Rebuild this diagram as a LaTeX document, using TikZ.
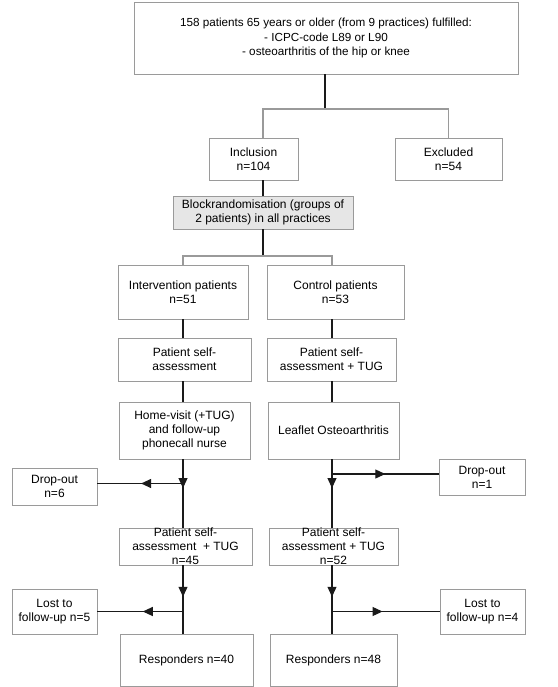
\documentclass[tikz,border=0pt]{standalone}
\usepackage{fontspec}
\setmainfont{Liberation Sans}
\usetikzlibrary{arrows.meta,decorations.markings}
\definecolor{boxgray}{HTML}{9A9A9A}
\definecolor{fillgray}{HTML}{E6E6E6}
\definecolor{linecol}{HTML}{1A1A1A}
\newcommand{\boxnode}[7][]{%
  \node[box,#1,minimum width={(#5-#3)*1pt},minimum height={(#6-#4)*1pt}] (#2) at ({(#3+#5)/2},{(#4+#6)/2}) {#7};}
\begin{document}
\begin{tikzpicture}[x=1pt,y=-1pt,
  box/.style={draw=boxgray,line width=0.9pt,fill=white,align=center,inner sep=0pt,
    font=\fontsize{12}{14}\selectfont},
  conn/.style={draw=linecol,line width=1.1pt},
  midarrow/.style={postaction={decorate},decoration={markings,
    mark=at position #1 with {\arrow{Triangle[length=10pt,width=9pt]}}}}]
\useasboundingbox (0,0) rectangle (557,687);
% boxes
\boxnode[font=\fontsize{11.7}{14.6}\selectfont]{top}{134}{2}{518}{74}{158 patients 65 years or older (from 9 practices) fulfilled:\\- ICPC-code L89 or L90\\- osteoarthritis of the hip or knee}
\boxnode{incl}{209}{138}{298}{180}{Inclusion\\n=104}
\boxnode{excl}{395}{138}{502}{180}{Excluded\\n=54}
\boxnode[fill=fillgray]{blk}{173}{196}{353}{229}{Blockrandomisation (groups of\\2 patients) in all practices}
\boxnode{int}{118}{265}{248}{319}{Intervention patients\\n=51}
\boxnode{ctl}{267}{265}{404}{319}{Control patients\\n=53}
\boxnode{psa}{118}{338}{251}{381}{Patient self-\\assessment}
\boxnode{psb}{267}{338}{396}{381}{Patient self-\\assessment + TUG}
\boxnode{home}{119}{402}{250}{459}{Home-visit (+TUG)\\and follow-up\\phonecall nurse}
\boxnode{leaf}{268}{402}{399}{459}{Leaflet Osteoarthritis}
\boxnode{dropa}{12}{468}{97}{505}{Drop-out\\n=6}
\boxnode{dropb}{439}{459}{525}{495}{Drop-out\\n=1}
\boxnode{fua}{119}{528}{252}{565}{Patient self-\\assessment~~+ TUG\\n=45}
\boxnode{fub}{269}{528}{398}{565}{Patient self-\\assessment + TUG\\n=52}
\boxnode{losta}{12}{589}{97}{634}{Lost to\\follow-up n=5}
\boxnode{lostb}{440}{589}{525}{634}{Lost to\\follow-up n=4}
\boxnode{respa}{120}{634}{253}{686}{Responders n=40}
\boxnode{respb}{270}{634}{397}{686}{Responders n=48}
% junctions
\coordinate (j1) at (325,109);
\coordinate (j2) at (263,256);
\coordinate (sl) at (183,0);
\coordinate (sr) at (332,0);
\coordinate (da) at ([yshift=3pt]dropa.east);
\coordinate (db) at ([yshift=3pt]dropb.west);
% connectors
\draw[conn] (top.south -| j1) -- (j1);
\draw[conn,draw=boxgray] (j2 |- incl.north) |- (j1) -| (excl.north);
\draw[conn] (j2 |- incl.south) -- (blk.north);
\draw[conn] (blk.south) -- (j2);
\draw[conn,draw=boxgray] (sl |- int.north) |- (j2) -| (sr |- ctl.north);
\draw[conn] (sl |- int.south) -- (sl |- psa.north);
\draw[conn] (sr |- ctl.south) -- (sr |- psb.north);
\draw[conn] (sl |- psa.south) -- (sl |- home.north);
\draw[conn] (sr |- psb.south) -- (sr |- leaf.north);
\draw[conn,midarrow=0.42] (sl |- home.south) -- (sl |- fua.north);
\draw[conn,midarrow=0.42] (sr |- leaf.south) -- (sr |- fub.north);
\draw[conn,midarrow=0.49] (sl |- da) -- (da);
\draw[conn,midarrow=0.50] (sr |- db) -- (db);
\draw[conn,midarrow=0.46] (sl |- fua.south) -- (sl |- respa.north);
\draw[conn,midarrow=0.46] (sr |- fub.south) -- (sr |- respb.north);
\draw[conn,midarrow=0.47] (sl |- losta.east) -- (losta.east);
\draw[conn,midarrow=0.47] (sr |- lostb.west) -- (lostb.west);
\end{tikzpicture}
\end{document}
